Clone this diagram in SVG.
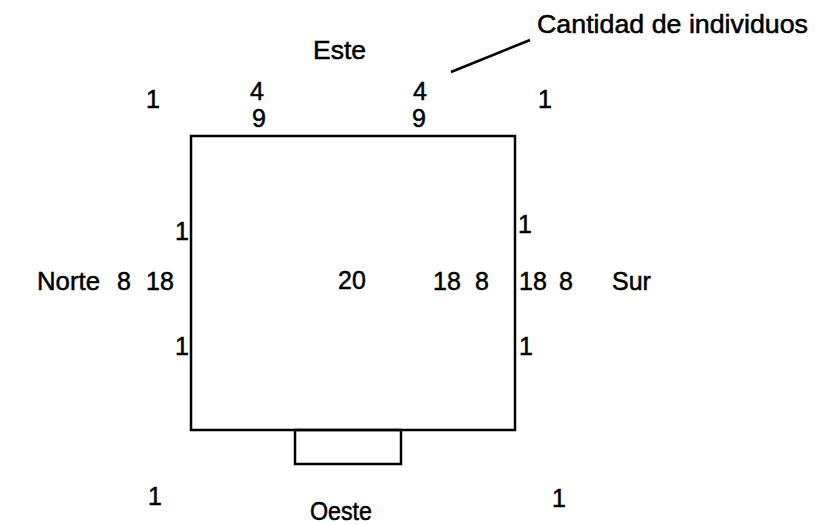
<svg xmlns="http://www.w3.org/2000/svg" width="829" height="524" viewBox="0 0 829 524">
  <style>
    text { font-family: "Liberation Sans", Arial, sans-serif; font-size: 25px; fill: #000; stroke: #000; stroke-width: 0.5; }
    .n { text-anchor: middle; }
    .shape { fill: none; stroke: #000; stroke-width: 2.5; }
    .conn { fill: none; stroke: #000; stroke-width: 2.5; }
  </style>
  <rect width="829" height="524" fill="#fff"/>

  <!-- plot outline and annex -->
  <g id="plot">
    <rect class="shape" x="191" y="136" width="324" height="294"/>
    <text class="n" x="352" y="289">20</text>
  </g>
  <g id="annex">
    <rect class="shape" x="295" y="430" width="106" height="34"/>
  </g>

  <!-- leader line -->
  <g id="connectors">
    <line class="conn" x1="451" y1="72" x2="530" y2="40"/>
  </g>

  <g id="label-cantidad">
    <text x="537" y="33" textLength="271" lengthAdjust="spacingAndGlyphs">Cantidad de individuos</text>
  </g>

  <g id="este">
    <text x="313" y="59" textLength="53" lengthAdjust="spacingAndGlyphs">Este</text>
    <text class="n" x="153" y="108">1</text>
    <text class="n" x="257" y="100">4</text>
    <text class="n" x="259" y="127">9</text>
    <text class="n" x="420" y="100">4</text>
    <text class="n" x="419" y="127">9</text>
    <text class="n" x="545" y="108">1</text>
  </g>

  <g id="norte">
    <text x="37" y="290" textLength="63" lengthAdjust="spacingAndGlyphs">Norte</text>
    <text class="n" x="124" y="290">8</text>
    <text class="n" x="160" y="290">18</text>
    <text class="n" x="182" y="240">1</text>
    <text class="n" x="182" y="355">1</text>
  </g>

  <g id="sur">
    <text class="n" x="447" y="290">18</text>
    <text class="n" x="482" y="290">8</text>
    <text class="n" x="533" y="290">18</text>
    <text class="n" x="566" y="290">8</text>
    <text x="612" y="290">Sur</text>
    <text class="n" x="525" y="233">1</text>
    <text class="n" x="526" y="355">1</text>
  </g>

  <g id="oeste">
    <text x="310" y="520" textLength="62" lengthAdjust="spacingAndGlyphs">Oeste</text>
    <text class="n" x="155" y="505">1</text>
    <text class="n" x="559" y="507">1</text>
  </g>
</svg>
